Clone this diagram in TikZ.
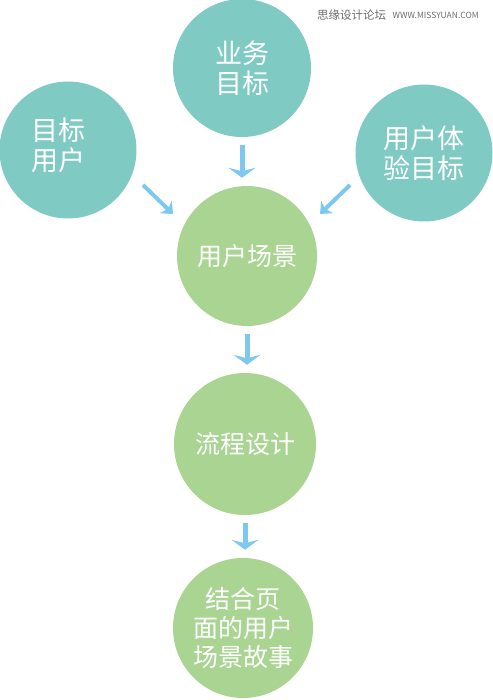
\documentclass[tikz,border=0pt]{standalone}
\usepackage{fontspec}
\newfontfamily\cjk{Noto Sans CJK SC}
\usetikzlibrary{arrows.meta}
\usetikzlibrary{positioning}

\definecolor{goalteal}{RGB}{128,202,196}
\definecolor{stepgreen}{RGB}{169,212,146}
\definecolor{flowblue}{RGB}{125,200,240}
\definecolor{markgray}{RGB}{110,110,110}

\tikzset{
  goal/.style={circle, fill=goalteal, minimum size=137pt, inner sep=0pt,
    text=white, align=center, font=\cjk\fontsize{27}{30}\selectfont},
  stage/.style={circle, fill=stepgreen, minimum size=140pt, inner sep=0pt,
    text=white, align=center, font=\cjk\fontsize{25}{29}\selectfont},
  flow/.style={draw=flowblue, line width=5pt,
    -{Stealth[length=10pt, width=27pt, inset=3.5pt]},
    shorten <=8pt, shorten >=8pt},
  sideflow/.style={draw=flowblue, line width=4pt,
    -{Stealth[length=10pt, width=17pt, inset=3pt]}}
}

\begin{document}
\begin{tikzpicture}[x=1pt, y=-1pt]
\useasboundingbox (0,0) rectangle (492,700);

% Goal circles
\node[goal, minimum size=138pt] (business) at (242,68) {业务\\目标};
\node[goal, label={[goal, fill=none, minimum size=0pt, xshift=-10pt, yshift=5pt]center:目标\\用户}]
  (users) at (68,150) {};
\node[goal] (experience) at (424,153) {用户体\\验目标};

% Stage circles
\node[stage] (scene) at (247,256) {用户场景};
\node[stage, minimum size=142pt] (process) at (245,444) {流程设计};
\node[stage] (story) at (243,628) {结合页\\面的用户\\场景故事};

% Vertical arrows
\foreach \a/\b in {business/scene, scene/process, process/story}
{
  \draw[flow] (\a.south) -- (\a.south |- \b.north);
}

% Diagonal arrows
\coordinate (usersout) at (143,185);
\coordinate (usersin) at (173,214);
\coordinate (experienceout) at (350,185);
\coordinate (experiencein) at (320,214);
\draw[sideflow] (usersout) -- (usersin);
\draw[sideflow] (experienceout) -- (experiencein);

% Watermark
\node[anchor=west, inner sep=0pt, text=markgray, font=\cjk\fontsize{11.5}{12}\selectfont]
  (markcn) at (317,15) {思缘设计论坛};
\node[right=6pt of markcn, inner sep=0pt, text=markgray, font=\cjk\fontsize{8.5}{9}\selectfont]
  (markurl) {WWW.MISSYUAN.COM};

\end{tikzpicture}
\end{document}
